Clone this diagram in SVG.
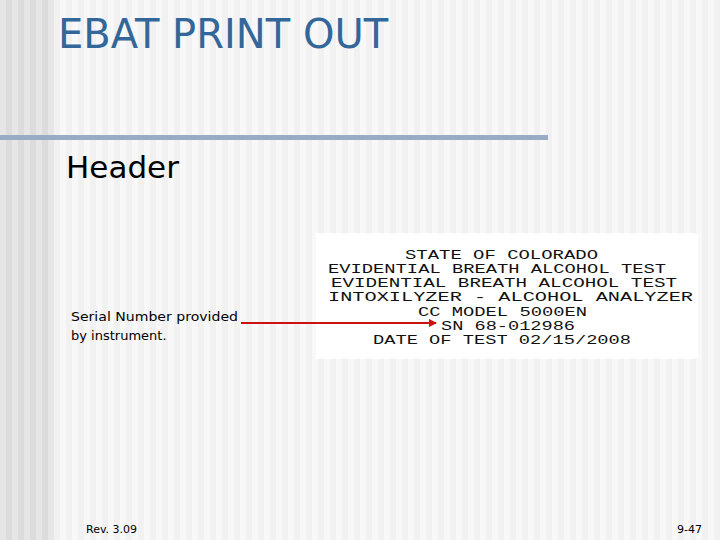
<svg xmlns="http://www.w3.org/2000/svg" width="720" height="540" viewBox="0 0 720 540">
<defs>
<pattern id="pl" width="12" height="540" patternUnits="userSpaceOnUse"><rect width="12" height="540" fill="#dcdcdc"/><rect width="6" height="540" fill="#e6e6e6"/></pattern>
<pattern id="pr" width="12" height="540" patternUnits="userSpaceOnUse"><rect width="12" height="540" fill="#f1f1f1"/><rect width="6" height="540" fill="#f8f8f8"/></pattern>
<marker id="ah" markerWidth="8" markerHeight="8" refX="7" refY="4" orient="auto" markerUnits="userSpaceOnUse"><path d="M0,0 L8,4 L0,8 z" fill="#cc1111"/></marker>
<style>
.m{font-family:"Liberation Mono",monospace;font-size:12.5px;fill:#111;text-anchor:start}
.s{font-family:"DejaVu Sans",sans-serif;fill:#000}
</style>
</defs>
<rect width="720" height="540" fill="url(#pr)"/>
<rect width="54" height="540" fill="url(#pl)"/>
<rect x="0" y="135" width="548" height="5" fill="#98acc6"/>
<text x="58" y="48" font-family="DejaVu Sans,sans-serif" font-size="40" fill="#336699">EBAT PRINT OUT</text>
<text x="66" y="178" class="s" font-size="31">Header</text>
<g id="printout">
<rect x="316" y="233" width="382" height="126" fill="#fff"/>
<text class="m" x="405" y="259" textLength="193" lengthAdjust="spacingAndGlyphs">STATE OF COLORADO</text>
<text class="m" x="328" y="273" textLength="338" lengthAdjust="spacingAndGlyphs">EVIDENTIAL BREATH ALCOHOL TEST</text>
<text class="m" x="331" y="287" textLength="346" lengthAdjust="spacingAndGlyphs">EVIDENTIAL BREATH ALCOHOL TEST</text>
<text class="m" x="328" y="301" textLength="365" lengthAdjust="spacingAndGlyphs">INTOXILYZER - ALCOHOL ANALYZER</text>
<text class="m" x="418" y="316" textLength="169" lengthAdjust="spacingAndGlyphs">CC MODEL 5000EN</text>
<text class="m" x="441" y="330" textLength="134" lengthAdjust="spacingAndGlyphs">SN 68-012986</text>
<text class="m" x="373" y="344" textLength="258" lengthAdjust="spacingAndGlyphs">DATE OF TEST 02/15/2008</text>
</g>
<g id="label">
<text x="71" y="321" class="s" font-size="13" textLength="167" lengthAdjust="spacingAndGlyphs">Serial Number provided</text>
<text x="71" y="340" class="s" font-size="13">by instrument.</text>
</g>
<g id="connectors">
<line x1="241" y1="323" x2="436" y2="323" stroke="#cc1111" stroke-width="2" marker-end="url(#ah)"/>
</g>
<text x="86" y="533" class="s" font-size="11">Rev. 3.09</text>
<text x="702" y="533" class="s" font-size="11" text-anchor="end">9-47</text>
</svg>
